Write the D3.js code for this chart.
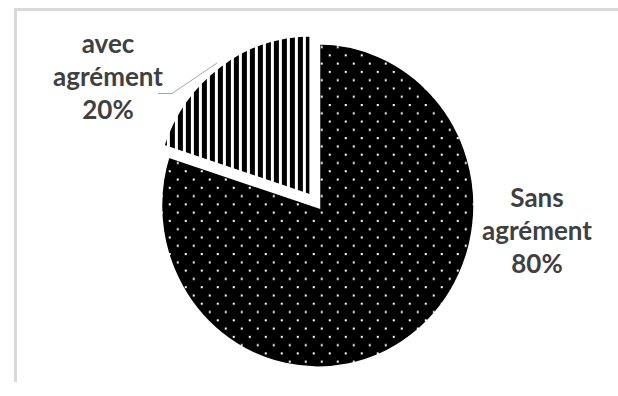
<!DOCTYPE html>
<meta charset="utf-8">
<script src="https://d3js.org/d3.v7.min.js"></script>
<style>body{margin:0;background:#fff;}</style>
<div id="chart"></div>
<script>
// data
const categories = ["Sans agrément", "avec agrément"];
const values = [80, 20];
const labelWords = [["Sans", "agrément"], ["avec", "agrément"]];

const width = 618, height = 396;
const cx = 316, cy = 203, r = 158, ry = 1.035;
const explode = [3, 7];
const fills = ["url(#dots)", "url(#stripes)"];
// label anchor (centre x, first baseline) for each slice
const labelPos = [[537, 207], [108, 53]];
const lineH = 33;

const svg = d3.select("#chart").append("svg")
    .attr("width", width)
    .attr("height", height);

const defs = svg.append("defs");

// white dots on black
const dots = defs.append("pattern")
    .attr("id", "dots")
    .attr("patternUnits", "userSpaceOnUse")
    .attr("x", 11).attr("y", 14)
    .attr("width", 16).attr("height", 16);
dots.append("rect").attr("width", 16).attr("height", 16).attr("fill", "#000");
dots.append("rect").attr("x", 0).attr("y", 0).attr("width", 2).attr("height", 2).attr("fill", "#fff");
dots.append("rect").attr("x", 8).attr("y", 8).attr("width", 2).attr("height", 2).attr("fill", "#fff");

// vertical black stripes
const stripes = defs.append("pattern")
    .attr("id", "stripes")
    .attr("patternUnits", "userSpaceOnUse")
    .attr("x", 2).attr("y", 0)
    .attr("width", 8).attr("height", 8);
stripes.append("rect").attr("width", 8).attr("height", 8).attr("fill", "#fff");
stripes.append("rect").attr("width", 5).attr("height", 8).attr("fill", "#000");

// soft edges
const soft = defs.append("filter").attr("id", "soft")
    .attr("x", "-10%").attr("y", "-10%").attr("width", "120%").attr("height", "120%");
soft.append("feGaussianBlur").attr("in", "SourceAlpha").attr("stdDeviation", 2.2).attr("result", "a");
soft.append("feComposite").attr("in", "SourceGraphic").attr("in2", "a").attr("operator", "in");

// frame (top and left edges visible)
svg.append("line")
    .attr("x1", 14).attr("x2", width).attr("y1", 9.5).attr("y2", 9.5)
    .attr("stroke", "#d9d9d9").attr("stroke-width", 3);
svg.append("line")
    .attr("x1", 15.5).attr("x2", 15.5).attr("y1", 8).attr("y2", 382)
    .attr("stroke", "#d9d9d9").attr("stroke-width", 3);

const pie = d3.pie().sort(null).value(d => d);
const arcs = pie(values);
const arc = d3.arc().innerRadius(0).outerRadius(r);

svg.append("g")
  .selectAll("g")
  .data(arcs)
  .join("g")
    .attr("transform", (d, i) => {
      const mid = (d.startAngle + d.endAngle) / 2;
      const dx = Math.sin(mid) * explode[i], dy = -Math.cos(mid) * explode[i];
      return `translate(${cx + dx},${cy + dy}) scale(1,${ry})`;
    })
  .append("path")
    .attr("d", arc)
    .attr("fill", (d, i) => fills[i])
    .attr("stroke", "#fff")
    .attr("stroke-width", 5)
    .attr("filter", "url(#soft)");

// leader line for the small slice
svg.append("path")
    .attr("d", "M158,93.5 L172,93.5 L217,63")
    .attr("fill", "none")
    .attr("stroke", "#a6a6a6")
    .attr("stroke-width", 1);

// labels
const total = d3.sum(values);
const labels = svg.append("g")
    .attr("font-family", "Lato, 'Open Sans', sans-serif")
    .attr("font-weight", "bold")
    .attr("font-size", 26)
    .attr("fill", "#404040")
    .attr("text-anchor", "middle");

labels.selectAll("text")
  .data(categories)
  .join("text")
    .attr("x", (d, i) => labelPos[i][0])
    .attr("y", (d, i) => labelPos[i][1])
    .each(function(d, i) {
      const lines = labelWords[i].concat([Math.round(values[i] / total * 100) + "%"]);
      d3.select(this).selectAll("tspan")
        .data(lines)
        .join("tspan")
          .attr("x", labelPos[i][0])
          .attr("dy", (t, j) => j === 0 ? 0 : lineH)
          .text(t => t);
    });
</script>
